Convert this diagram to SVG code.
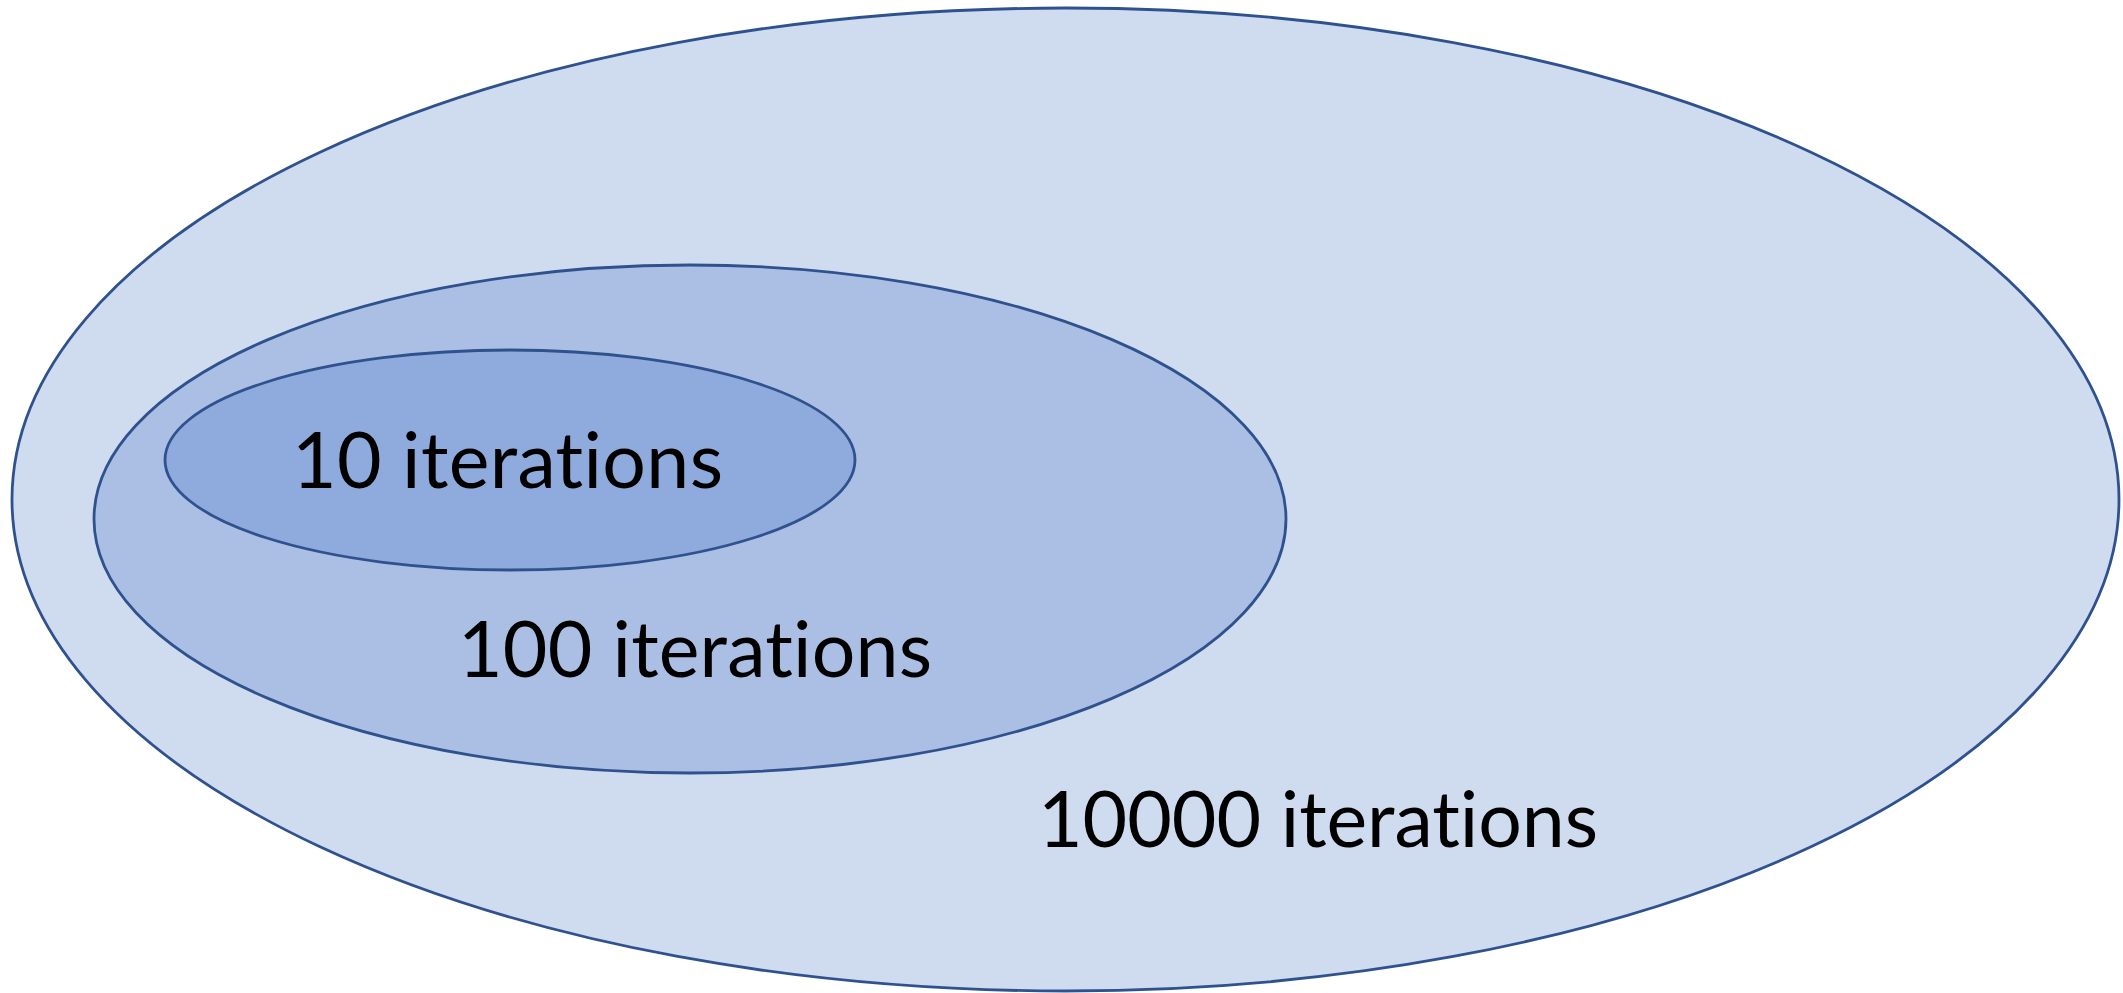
<svg xmlns="http://www.w3.org/2000/svg" width="2123" height="993" viewBox="0 0 2123 993">
  <style>
    .ring { stroke: #2F528F; stroke-width: 2.8; }
    .label { font-family: Lato, "Liberation Sans", sans-serif; font-size: 77px; fill: #000000;
             font-variant-ligatures: none; font-feature-settings: "liga" 0, "clig" 0; }
  </style>
  <rect width="2123" height="993" fill="#FFFFFF"/>
  <!-- nested sets: each ring holds the one drawn after it -->
  <g id="outer">
    <ellipse class="ring" cx="1065.5" cy="499.5" rx="1053.5" ry="491.5" fill="#CFDCEF"/>
    <text class="label" x="1038" y="847" textLength="560">10000 iterations</text>
  </g>
  <g id="middle">
    <ellipse class="ring" cx="690" cy="519" rx="596" ry="254" fill="#ABBFE4"/>
    <text class="label" x="458" y="677" textLength="474">100 iterations</text>
  </g>
  <g id="inner">
    <ellipse class="ring" cx="510" cy="460" rx="345" ry="110" fill="#8FAADC"/>
    <text class="label" x="292" y="488" textLength="431">10 iterations</text>
  </g>
  <g id="connectors"/>
</svg>
